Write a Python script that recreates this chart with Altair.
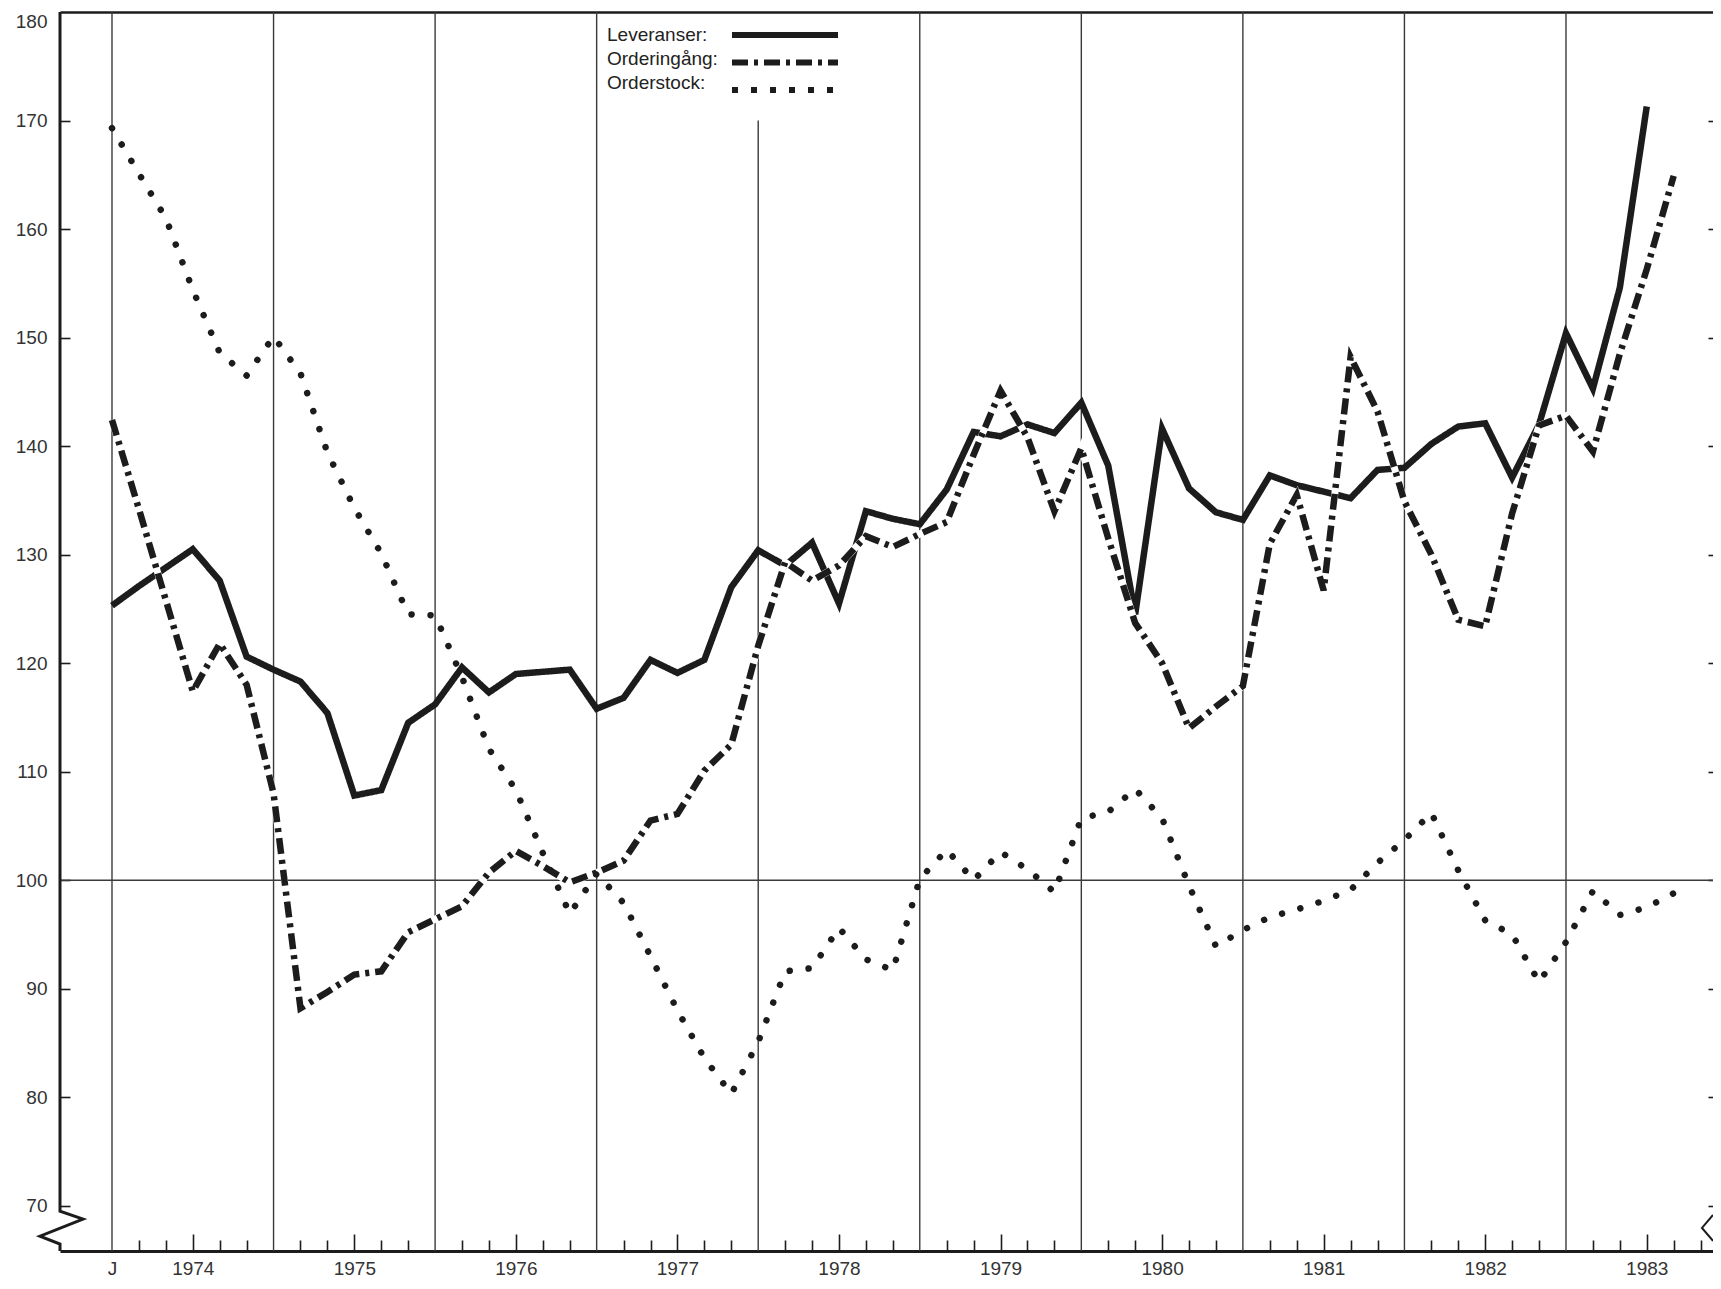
import altair as alt
import pandas as pd

# ---------------- data ----------------
lev_months = list(range(0, 115, 2))
leveranser = [125.3, 127.1, 128.8, 130.5, 127.6, 120.6, 119.4, 118.3, 115.4, 107.8,
              108.3, 114.5, 116.2, 119.6, 117.3, 119.0, 119.2, 119.4, 115.8, 116.8,
              120.3, 119.1, 120.3, 127.0, 130.4, 129.0, 131.1, 125.5, 134.0, 133.3,
              132.8, 136.0, 141.3, 140.9, 142.0, 141.2, 144.0, 138.2, 124.5, 141.6,
              136.1, 133.9, 133.2, 137.3, 136.4, 135.8, 135.2, 137.8, 138.0, 140.2,
              141.8, 142.1, 137.1, 142.0, 150.4, 145.3, 154.6, 171.3]

ord_months = list(range(0, 117, 2))
orderingang = [142.4, 134.2, 125.8, 117.4, 121.8, 118.0, 108.0, 88.2, 89.7, 91.3,
               91.6, 95.2, 96.4, 97.6, 100.7, 102.7, 101.3, 99.8, 100.7, 101.8,
               105.5, 106.1, 110.1, 112.5, 121.6, 129.3, 127.6, 129.0, 131.7, 130.7,
               131.9, 133.0, 139.2, 145.1, 140.8, 134.0, 139.8, 131.5, 123.7, 120.0,
               114.0, 116.0, 117.9, 131.0, 135.5, 126.7, 148.2, 143.2, 134.9, 130.0,
               124.0, 123.4, 133.8, 141.9, 142.8, 139.5, 148.5, 156.3, 164.9]

stock_months = list(range(0, 117, 2))
orderstock = [169.3, 165.1, 161.0, 154.4, 148.6, 146.5, 150.1, 146.7, 139.4, 134.3,
              130.1, 124.5, 124.4, 118.7, 112.1, 108.3, 102.5, 96.9, 100.6, 97.9,
              93.0, 88.0, 83.6, 80.3, 85.1, 91.6, 91.9, 95.6, 92.7, 91.7,
              100.1, 102.8, 100.0, 102.6, 101.0, 98.9, 105.7, 106.3, 108.4, 105.7,
              99.5, 93.9, 95.4, 96.6, 97.3, 98.1, 99.1, 101.6, 103.7, 106.2,
              100.9, 96.3, 95.0, 90.6, 94.3, 99.0, 96.8, 97.5, 98.8]

series_names = ["Leveranser", "Orderingång", "Orderstock"]
legend_texts = ["Leveranser:", "Orderingång:", "Orderstock:"]
dash_range = [[1, 0], [16, 6, 4, 6], [6, 13]]

year_starts = [0, 12, 24, 36, 48, 60, 72, 84, 96, 108]
year_tops = [180, 180, 180, 180, 170, 180, 180, 180, 180, 180]

x_label_values = [0, 6, 18, 30, 42, 54, 66, 78, 90, 102, 114]
x_label_texts = ["J", "1974", "1975", "1976", "1977", "1978", "1979", "1980",
                 "1981", "1982", "1983"]
major_ticks = x_label_values[1:]
minor_ticks = [m for m in range(2, 119, 2) if m % 6 != 0]
y_values = list(range(70, 181, 10))
reference_level = [100]

Y_MIN, Y_MAX = 65.83, 180
X_MIN, X_MAX = -3.862, 118.92

# axis-break glyphs (frame decoration)
left_frame_month = [X_MIN, X_MIN, -2.154, -5.349, X_MIN, X_MIN]
left_frame_value = [180, 69.51, 68.77, 67.20, 66.47, Y_MIN]
right_break_month = [X_MAX, 118.10, X_MAX]
right_break_value = [69.15, 67.96, 66.76]

# ---------------- styling ----------------
W, H = 1653, 1239
INK = "#1c1c1c"
GRID = "#3a3a3a"
TXT = "#333333"
FONT = "Liberation Sans"

def long(months, vals, idx):
    return pd.DataFrame({"month": months, "value": vals,
                         "series": series_names[idx], "name": legend_texts[idx]})

df_lev = long(lev_months, leveranser, 0)
df_ord = long(ord_months, orderingang, 1)
df_stock = long(stock_months, orderstock, 2)

df_years = pd.DataFrame({"month": year_starts, "top": year_tops,
                         "bottom": [Y_MIN] * len(year_starts)})
df_ref = pd.DataFrame({"value": reference_level})
df_frame = pd.concat([
    pd.DataFrame({"month": left_frame_month, "value": left_frame_value,
                  "part": "left", "w": 3.0, "i": range(len(left_frame_month))}),
    pd.DataFrame({"month": right_break_month, "value": right_break_value,
                  "part": "right", "w": 2.0, "i": range(len(right_break_month))}),
])

xscale = alt.Scale(domain=[X_MIN, X_MAX], nice=False, zero=False)
yscale = alt.Scale(domain=[Y_MIN, Y_MAX], nice=False, zero=False)

label_expr = " : ".join(f"datum.value == {v} ? '{t}'"
                        for v, t in zip(x_label_values, x_label_texts)) + " : ''"

# legend part 1: the line samples (text hidden)
symbol_legend = alt.Legend(
    title=None, orient="none", legendX=669, legendY=13, padding=0,
    symbolType="stroke", symbolSize=106 * 106, symbolStrokeWidth=6,
    symbolStrokeColor=INK, clipHeight=20, rowPadding=7.5,
    labelOpacity=0, labelFontSize=8,
)
dash_enc = alt.StrokeDash("series:N",
                          scale=alt.Scale(domain=series_names, range=dash_range),
                          legend=symbol_legend)

# legend part 2: the names, to the left of the samples
label_legend = alt.Legend(
    title=None, orient="none", legendX=528, legendY=13, padding=0,
    symbolType="stroke", symbolSize=0, symbolStrokeWidth=0, symbolOpacity=0,
    clipHeight=20, rowPadding=4,
    labelFont=FONT, labelFontSize=19, labelColor="#222222",
    labelAlign="left", labelOffset=0, labelLimit=300,
)
color_enc = alt.Color("name:N",
                      scale=alt.Scale(domain=legend_texts, range=[INK, INK, INK]),
                      legend=label_legend)

# vertical year lines + main labelled axes
rules = alt.Chart(df_years).mark_rule(color=GRID, strokeWidth=1.4).encode(
    x=alt.X("month:Q", scale=xscale, axis=alt.Axis(
        orient="bottom", values=x_label_values, labelExpr=label_expr,
        ticks=False, domain=True, domainWidth=3, domainColor=INK,
        labelPadding=17, labelBaseline="middle", labelFontSize=19,
        labelColor=TXT, labelFlush=False, labelOverlap=False,
        grid=False, title=None)),
    y=alt.Y("top:Q", scale=yscale, axis=alt.Axis(
        orient="left", values=y_values, ticks=False, domain=False,
        labelPadding=13, labelFontSize=19, labelColor=TXT,
        labelBaseline={"condition": {"test": "datum.value == 180", "value": "top"},
                       "value": "middle"},
        labelFlush=False, labelOverlap=False, grid=False, title=None)),
    y2="bottom:Q",
)

hline = alt.Chart(df_ref).mark_rule(color=GRID, strokeWidth=1.5).encode(
    y=alt.Y("value:Q", scale=yscale, axis=None),
)

lev_line = alt.Chart(df_lev).mark_line(color=INK, strokeWidth=6.5).encode(
    x=alt.X("month:Q", scale=xscale, axis=alt.Axis(
        orient="top", offset=-H, values=minor_ticks, tickSize=11, tickWidth=1.6,
        tickColor=INK, labels=False, domain=False, grid=False, title=None)),
    y=alt.Y("value:Q", scale=yscale, axis=alt.Axis(
        orient="right", offset=-W, values=y_values[:-1], tickSize=10,
        tickWidth=1.6, tickColor=INK, labels=False, domain=False,
        grid=False, title=None)),
    strokeDash=dash_enc,
)

ord_under = alt.Chart(df_ord).mark_line(color="white", strokeWidth=7).encode(
    x=alt.X("month:Q", scale=xscale, axis=alt.Axis(
        orient="top", offset=-H, values=major_ticks, tickSize=17, tickWidth=1.6,
        tickColor=INK, labels=False, domain=False, grid=False, title=None)),
    y=alt.Y("value:Q", scale=yscale, axis=alt.Axis(
        orient="left", offset=-W, values=y_values[:-1], tickSize=5,
        tickWidth=1.6, tickColor=INK, labels=False, domain=False,
        grid=False, title=None)),
)

ord_line = alt.Chart(df_ord).mark_line(color=INK, strokeWidth=6.5).encode(
    x=alt.X("month:Q", scale=xscale, axis=alt.Axis(
        orient="top", ticks=False, labels=False, domain=True, domainWidth=2.5,
        domainColor=INK, grid=False, title=None)),
    y=alt.Y("value:Q", scale=yscale, axis=None),
    strokeDash=dash_enc,
)

stock_line = alt.Chart(df_stock).mark_line(
    strokeWidth=6.5, strokeDash=[0.01, 19], strokeCap="round"
).encode(
    x=alt.X("month:Q", scale=xscale, axis=None),
    y=alt.Y("value:Q", scale=yscale, axis=None),
    color=color_enc,
)

frame = alt.Chart(df_frame).mark_line(color=INK, strokeJoin="miter").encode(
    x=alt.X("month:Q", scale=xscale, axis=None),
    y=alt.Y("value:Q", scale=yscale, axis=None),
    detail="part:N",
    order="i:Q",
    strokeWidth=alt.StrokeWidth("w:Q", scale=None, legend=None),
)

chart = alt.layer(
    rules, hline, lev_line, ord_under, ord_line, stock_line, frame
).resolve_axis(x="independent", y="independent").properties(
    width=W, height=H,
    autosize=alt.AutoSizeParams(type="none"),
    padding={"left": 52, "top": 4, "right": 0, "bottom": 26},
    background="white",
).configure_view(stroke=None).configure_axis(labelFont=FONT)

chart.save("out.html", embed_options={"renderer": "svg", "actions": False})
